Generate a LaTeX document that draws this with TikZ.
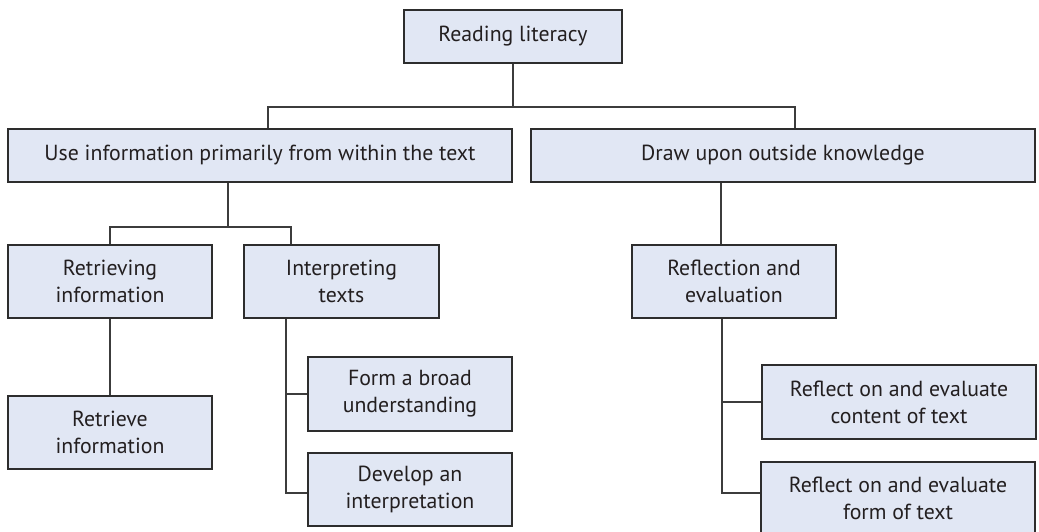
\documentclass[tikz,border=0pt]{standalone}
\usepackage{fontspec}
\setmainfont{PT Sans}
\usetikzlibrary{calc}
\definecolor{boxfill}{RGB}{225,231,244}
\definecolor{boxline}{RGB}{45,45,45}
\definecolor{linkline}{RGB}{60,60,60}
\definecolor{txt}{RGB}{35,31,32}
\tikzset{
  box/.style={draw=boxline, fill=boxfill, line width=1.3pt, rectangle,
    inner sep=0pt, align=center, text=txt,
    font=\fontsize{21.8}{27}\selectfont},
  link/.style={draw=linkline, line width=1.2pt},
}
\begin{document}
\begin{tikzpicture}[x=1pt, y=-1pt]
\useasboundingbox (0,0) rectangle (1039,532);
% level 0
\node[box, minimum width=218pt, minimum height=53pt] (lit) at (513,36.5) {Reading literacy};
% level 1
\node[box, minimum width=504pt, minimum height=53pt] (use) at (260,155.5) {Use information primarily from within the text};
\node[box, minimum width=504pt, minimum height=53pt] (out) at (783,155.5) {Draw upon outside knowledge};
% level 2
\node[box, minimum width=204pt, minimum height=73pt] (retr) at (110,281.5) {Retrieving\\information};
\node[box, minimum width=195pt, minimum height=73pt] (interp) at (341.5,281.5) {Interpreting\\texts};
\node[box, minimum width=204pt, minimum height=73pt] (refl) at (734,281.5) {Reflection and\\evaluation};
% level 3
\node[box, minimum width=204pt, minimum height=73pt] (retrieve) at (110,432.5) {Retrieve\\information};
\node[box, minimum width=204pt, minimum height=74pt] (broad) at (410,394) {Form a broad\\understanding};
\node[box, minimum width=204pt, minimum height=73pt] (develop) at (410,489.5) {Develop an\\interpretation};
\node[box, minimum width=274pt, minimum height=74pt] (content) at (899,402) {Reflect on and evaluate\\content of text};
\node[box, minimum width=274pt, minimum height=73pt] (form) at (898,498.5) {Reflect on and evaluate\\form of text};
% junction points of the tree
\coordinate (j0) at (513,107);
\coordinate (jl) at (268,107);
\coordinate (jr) at (795,107);
\coordinate (j1) at (228,227);
\coordinate (j1r) at (291,227);
\coordinate (xi) at (286,0);
\coordinate (xo) at (721,0);
\coordinate (xr) at (722,0);
\coordinate (yf) at (0,493);
% connectors
\draw[link] (lit.south) -- (j0);
\draw[link] (use.north -| jl) -- (jl) -- (jr) -- (out.north -| jr);
\draw[link] (use.south -| j1) -- (j1);
\draw[link] (retr.north) |- (j1r) -- (interp.north -| j1r);
\draw[link] (retr.south) -- (retrieve.north);
\draw[link] (interp.south -| xi) |- (broad.west);
\draw[link] (interp.south -| xi) |- (develop.west |- yf);
\draw[link] (out.south -| xo) -- (refl.north -| xo);
\draw[link] (refl.south -| xr) |- (content.west);
\draw[link] (refl.south -| xr) |- (form.west |- yf);
\end{tikzpicture}
\end{document}
